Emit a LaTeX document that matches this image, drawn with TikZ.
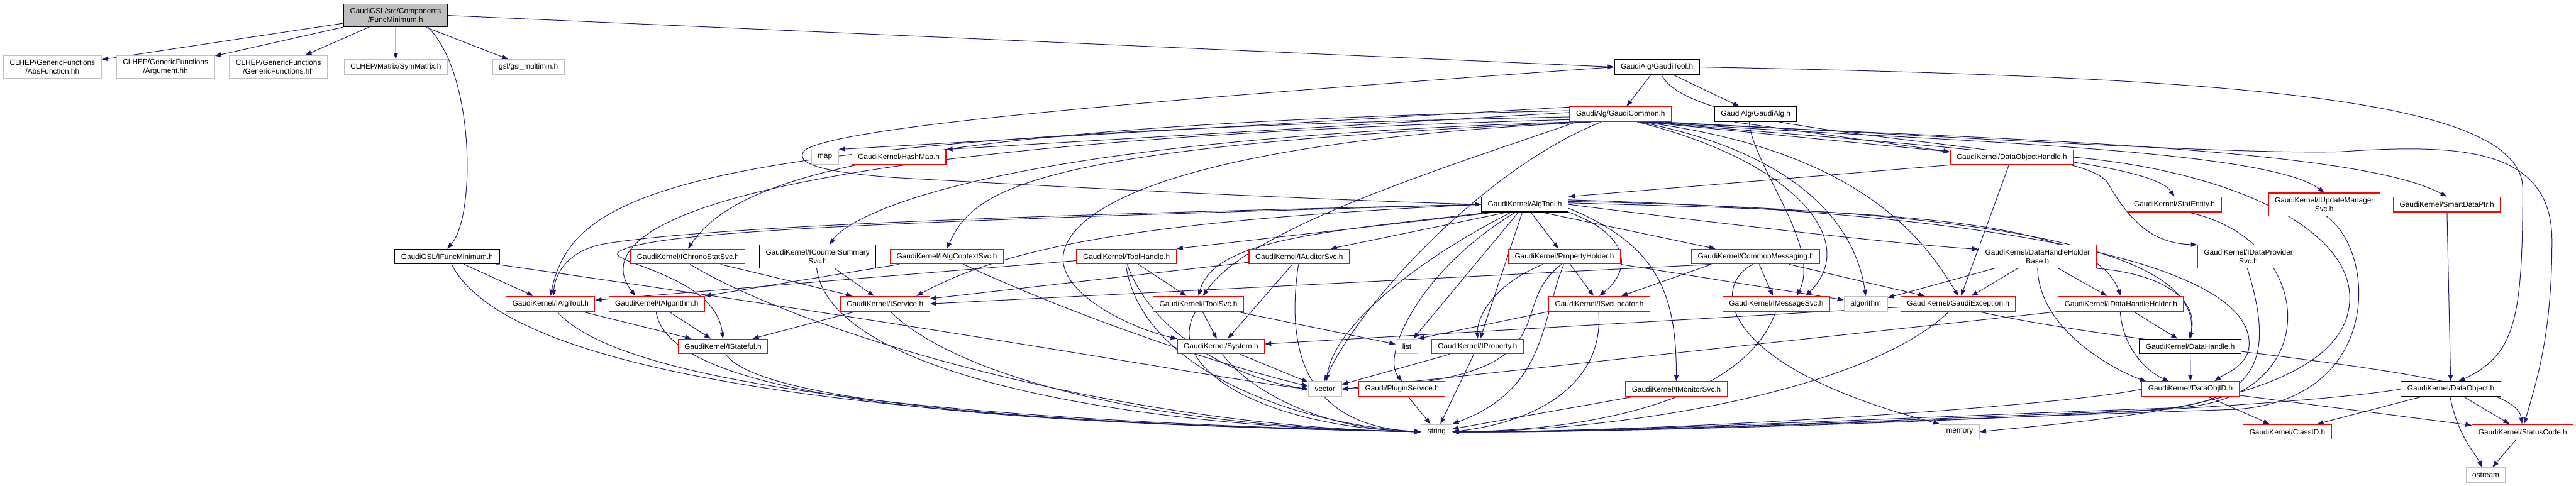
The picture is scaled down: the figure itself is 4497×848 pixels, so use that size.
\documentclass[tikz,border=0pt]{standalone}
\usepackage{fontspec}
\setmainfont{Liberation Sans}
\usetikzlibrary{arrows.meta}
\pgfdeclarelayer{background}
\pgfsetlayers{background,main}
\definecolor{edgeblue}{HTML}{191970}
\definecolor{extgray}{HTML}{BFBFBF}
\tikzset{
  hdr/.style={draw, fill=white, line width=1.3pt, inner xsep=11pt, inner ysep=4pt, minimum height=26pt, align=center, font=\fontsize{13}{15.5}\selectfont},
  redhdr/.style={hdr, draw=red},
  blkhdr/.style={hdr, draw=black},
  exthdr/.style={hdr, draw=extgray},
  roothdr/.style={hdr, draw=black, fill=extgray},
  twoline/.style={minimum height=40pt},
  dep/.style={draw=edgeblue, line width=1.1pt, -{Triangle[length=11pt,width=8pt]}}
}
\begin{document}
\begin{tikzpicture}[x=1pt,y=1pt]
\useasboundingbox (0,0) rectangle (4497,-848);
% rows from top to bottom
\node[roothdr, twoline] (root) at (690.5,-27) {GaudiGSL/src/Components\\/FuncMinimum.h};
\node[exthdr, twoline] (absf) at (91.5,-117) {CLHEP/GenericFunctions\\/AbsFunction.hh};
\node[exthdr, twoline] (argu) at (289,-117) {CLHEP/GenericFunctions\\/Argument.hh};
\node[exthdr, twoline] (genf) at (486,-117) {CLHEP/GenericFunctions\\/GenericFunctions.hh};
\node[exthdr] (symm) at (691,-117) {CLHEP/Matrix/SymMatrix.h};
\node[exthdr] (gslm) at (922.5,-117) {gsl/gsl\_multimin.h};
\node[blkhdr] (gtool) at (2892.5,-117) {GaudiAlg/GaudiTool.h};
\node[redhdr] (gcommon) at (2829,-199.5) {GaudiAlg/GaudiCommon.h};
\node[blkhdr] (galg) at (3065,-199.5) {GaudiAlg/GaudiAlg.h};
\node[exthdr] (mapn) at (1440,-274.5) {map};
\node[redhdr] (hashmap) at (1569,-274.5) {GaudiKernel/HashMap.h};
\node[redhdr] (dohandle) at (3512,-274.5) {GaudiKernel/DataObjectHandle.h};
\node[blkhdr] (algtool) at (2662,-357) {GaudiKernel/AlgTool.h};
\node[redhdr] (statent) at (3796,-357) {GaudiKernel/StatEntity.h};
\node[redhdr, twoline] (iupdsvc) at (4057.5,-357) {GaudiKernel/IUpdateManager\\Svc.h};
\node[redhdr] (smartptr) at (4271.5,-357) {GaudiKernel/SmartDataPtr.h};
\node[blkhdr] (ifunc) at (780.5,-448) {GaudiGSL/IFuncMinimum.h};
\node[redhdr] (ichrono) at (1201,-448) {GaudiKernel/IChronoStatSvc.h};
\node[blkhdr, twoline] (icounter) at (1427.5,-448) {GaudiKernel/ICounterSummary\\Svc.h};
\node[redhdr] (ialgctx) at (1653,-448) {GaudiKernel/IAlgContextSvc.h};
\node[redhdr] (toolh) at (1966.5,-448) {GaudiKernel/ToolHandle.h};
\node[redhdr] (iaudit) at (2268,-448) {GaudiKernel/IAuditorSvc.h};
\node[redhdr] (propholder) at (2731,-448) {GaudiKernel/PropertyHolder.h};
\node[redhdr] (commsg) at (3065,-448) {GaudiKernel/CommonMessaging.h};
\node[redhdr, twoline] (dhhbase) at (3557,-448) {GaudiKernel/DataHandleHolder\\Base.h};
\node[redhdr, twoline] (idataprov) at (3925,-448) {GaudiKernel/IDataProvider\\Svc.h};
\node[redhdr] (ialgtool) at (961,-530.5) {GaudiKernel/IAlgTool.h};
\node[redhdr] (ialgo) at (1146.5,-530.5) {GaudiKernel/IAlgorithm.h};
\node[redhdr] (iservice) at (1545,-530.5) {GaudiKernel/IService.h};
\node[redhdr] (itoolsvc) at (2092,-530.5) {GaudiKernel/IToolSvc.h};
\node[redhdr] (isvcloc) at (2792,-530.5) {GaudiKernel/ISvcLocator.h};
\node[redhdr] (imsgsvc) at (3101,-530.5) {GaudiKernel/IMessageSvc.h};
\node[exthdr] (algor) at (3257,-530.5) {algorithm};
\node[redhdr] (gexcept) at (3418.5,-530.5) {GaudiKernel/GaudiException.h};
\node[redhdr] (idhh) at (3702.5,-530.5) {GaudiKernel/IDataHandleHolder.h};
\node[redhdr] (istate) at (1262,-605) {GaudiKernel/IStateful.h};
\node[redhdr] (system) at (2131.5,-605) {GaudiKernel/System.h};
\node[exthdr] (listn) at (2456,-605) {list};
\node[redhdr] (iprop) at (2579.5,-605) {GaudiKernel/IProperty.h};
\node[blkhdr] (dhandle) at (3823.5,-605) {GaudiKernel/DataHandle.h};
\node[exthdr] (vectorn) at (2313,-679.5) {vector};
\node[redhdr] (plugin) at (2447.5,-679.5) {Gaudi/PluginService.h};
\node[redhdr] (imonsvc) at (2926.5,-679.5) {GaudiKernel/IMonitorSvc.h};
\node[redhdr] (dobjid) at (3824,-679.5) {GaudiKernel/DataObjID.h};
\node[blkhdr] (dobject) at (4278.5,-679.5) {GaudiKernel/DataObject.h};
\node[exthdr] (stringn) at (2508,-754) {string};
\node[exthdr] (memoryn) at (3421,-754) {memory};
\node[redhdr] (classid) at (3993,-754) {GaudiKernel/ClassID.h};
\node[redhdr] (statcode) at (4404,-754) {GaudiKernel/StatusCode.h};
\node[exthdr] (ostreamn) at (4339.5,-829.5) {ostream};

\begin{pgfonlayer}{background}
% FuncMinimum.h
\foreach \t in {absf,argu,genf,symm,gslm}
  \draw[dep] (root) -- (\t);
\draw[dep] (root.east) -- (gtool.west);
\draw[dep] (root.-20) .. controls (830,-130) and (830,-380) .. (ifunc.north);
% GaudiTool.h
\draw[dep] (gtool) -- (gcommon);
\draw[dep] (gtool) -- (galg);
\draw[dep] (gtool.west) .. controls (2000,-175) and (1470,-220) .. (1405,-262) .. controls (1385,-285) and (1430,-300) .. (1560,-310) .. controls (2000,-335) and (2400,-352) .. (algtool.west);
\draw[dep] (gtool.east) .. controls (3900,-135) and (4404,-170) .. (4404,-330) .. controls (4404,-560) and (4390,-620) .. (dobject.45);
\draw[dep] (gtool.-60) .. controls (2960,-250) and (3630,-240) .. (3680,-320) .. controls (3720,-390) and (3760,-425) .. (idataprov.north west);
% GaudiCommon.h
\draw[dep] (gcommon.172) -- (mapn.north east);
\draw[dep] (gcommon.178) -- (hashmap.north east);
\draw[dep] (gcommon.183) .. controls (1200,-235) and (1000,-330) .. (ialgtool.north);
\draw[dep] (gcommon.186) .. controls (1250,-250) and (1020,-400) .. (ialgo.160);
\draw[dep] (gcommon.176) .. controls (1500,-220) and (1280,-320) .. (ichrono.north);
\draw[dep] (gcommon.189) .. controls (1700,-245) and (1480,-380) .. (icounter.45);
\draw[dep] (gcommon.192) .. controls (1800,-255) and (1700,-330) .. (ialgctx.north);
\draw[dep] (gcommon.195) .. controls (2000,-250) and (1850,-380) .. (1856,-457) .. controls (1862,-520) and (1980,-575) .. (system.north west);
\draw[dep] (gcommon.-170) .. controls (2500,-300) and (2180,-400) .. (itoolsvc.60);
\draw[dep] (gcommon.-158) .. controls (2600,-290) and (2380,-520) .. (vectorn.95);
\draw[dep] (gcommon.-25) .. controls (3130,-280) and (3250,-420) .. (imsgsvc.15);
\draw[dep] (gcommon.-22) .. controls (3150,-270) and (3240,-400) .. (algor.north);
\draw[dep] (gcommon.-20) .. controls (3250,-262) and (3360,-420) .. (gexcept.north);
\draw[dep] (gcommon.-18) -- (dohandle.175);
\draw[dep] (gcommon.-16) .. controls (3300,-250) and (3750,-275) .. (statent.north);
\draw[dep] (gcommon.-14) .. controls (3300,-244) and (3950,-255) .. (iupdsvc.north);
\draw[dep] (gcommon.-12) .. controls (3350,-240) and (4100,-250) .. (smartptr.north);
\draw[dep] (gcommon.-10) .. controls (3350,-236) and (3900,-270) .. (4085,-265) .. controls (4300,-250) and (4455,-260) .. (4455,-420) .. controls (4455,-580) and (4430,-660) .. (statcode.80);
% GaudiAlg.h
\draw[dep] (galg.-160) -- (dohandle.175);
\draw[dep] (galg.-130) .. controls (3060,-290) and (3180,-430) .. (imsgsvc.21);
% DataObjectHandle.h
\draw[dep] (dohandle.south west) -- (algtool.north east);
\draw[dep] (dohandle) -- (gexcept);
\draw[dep] (dohandle.east) .. controls (3900,-300) and (4102,-400) .. (4102,-520) .. controls (4102,-700) and (3700,-730) .. (memoryn.east);
% AlgTool.h
\draw[dep] (algtool.west) .. controls (1800,-375) and (1250,-395) .. (1060,-425) .. controls (1000,-434) and (970,-470) .. (ialgtool.70);
\draw[dep] (algtool.west) .. controls (1500,-388) and (1130,-405) .. (1080,-440) .. controls (1055,-458) and (1250,-480) .. (istate.north);
\draw[dep] (algtool.west) .. controls (2000,-385) and (1760,-430) .. (iservice.14);
\draw[dep] (algtool.-165) -- (toolh.north east);
\draw[dep] (algtool.-156) -- (iaudit.14);
\draw[dep] (algtool.-167) .. controls (2300,-405) and (2120,-420) .. (itoolsvc.north);
\draw[dep] (algtool.-150) .. controls (2500,-440) and (2330,-560) .. (vectorn.80);
\draw[dep] (algtool.-140) .. controls (2480,-470) and (2410,-620) .. (plugin.north);
\draw[dep] (algtool) -- (listn);
\draw[dep] (algtool) -- (iprop);
\draw[dep] (algtool) -- (propholder);
\draw[dep] (algtool.-10) .. controls (2845,-410) and (2850,-470) .. (isvcloc.north);
\draw[dep] (algtool.-5) .. controls (2900,-430) and (2926,-520) .. (imonsvc.north);
\draw[dep] (algtool.-25) -- (commsg.169);
\draw[dep] (algtool.east) .. controls (3000,-390) and (3300,-425) .. (dhhbase.173);
\draw[dep] (algtool.2) .. controls (3300,-370) and (3650,-380) .. (idhh.north);
\draw[dep] (algtool.4) .. controls (3400,-365) and (3845,-420) .. (dhandle.88);
\draw[dep] (algtool.6) .. controls (3600,-375) and (3940,-480) .. (3926,-607) .. controls (3922,-640) and (3880,-655) .. (dobjid.18);
% second row
\draw[dep] (ifunc) -- (ialgtool);
\draw[dep] (ifunc.-9) .. controls (1700,-580) and (2150,-665) .. (vectorn.west);
\draw[dep] (ifunc.-60) .. controls (900,-680) and (1700,-740) .. (stringn.west);
\draw[dep] (ichrono) -- (iservice);
\draw[dep] (ichrono.-75) .. controls (1400,-580) and (1950,-745) .. (stringn.west);
\draw[dep] (icounter) -- (iservice);
\draw[dep] (icounter.-95) .. controls (1450,-660) and (2000,-748) .. (stringn.west);
\draw[dep] (ialgctx) -- (ialgo);
\draw[dep] (ialgctx) .. controls (1850,-540) and (2100,-630) .. (vectorn.170);
\draw[dep] (toolh) -- (ialgtool);
\draw[dep] (toolh) -- (itoolsvc);
\draw[dep] (toolh.-95) .. controls (1990,-640) and (2250,-740) .. (stringn.west);
\draw[dep] (toolh.-85) .. controls (2010,-580) and (2150,-660) .. (vectorn.west);
\draw[dep] (iaudit) -- (iservice);
\draw[dep] (iaudit) -- (system);
\draw[dep] (iaudit.-95) .. controls (2240,-640) and (2300,-745) .. (stringn.west);
\draw[dep] (propholder) -- (isvcloc);
\draw[dep] (propholder.south east) -- (algor.170);
\draw[dep] (propholder.-160) .. controls (2600,-500) and (2578,-560) .. (iprop.north);
\draw[dep] (propholder.-110) .. controls (2620,-540) and (2760,-660) .. (vectorn.east);
\draw[dep] (propholder.-95) .. controls (2690,-560) and (2700,-680) .. (stringn.north east);
\draw[dep] (commsg) -- (imsgsvc);
\draw[dep] (commsg) -- (gexcept);
\draw[dep] (commsg.-170) -- (iservice.east);
\draw[dep] (commsg.-170) -- (isvcloc);
\draw[dep] (commsg.-110) .. controls (2985,-500) and (3000,-640) .. (memoryn.north west);
\draw[dep] (dhhbase) -- (algor);
\draw[dep] (dhhbase) -- (gexcept);
\draw[dep] (dhhbase) -- (idhh);
\draw[dep] (dhhbase.-90) .. controls (3560,-580) and (3700,-650) .. (dobjid.170);
\draw[dep] (dhhbase.south east) .. controls (3790,-480) and (3838,-530) .. (dhandle.95);
\draw[dep] (idataprov.-95) .. controls (3970,-620) and (3950,-705) .. (3750,-716) .. controls (3300,-735) and (2800,-755) .. (stringn.east);
\draw[dep] (statent.-30) .. controls (4050,-420) and (4060,-700) .. (3800,-712) .. controls (3300,-730) and (2800,-755) .. (stringn.east);
\draw[dep] (iupdsvc.-80) .. controls (4150,-440) and (4160,-700) .. (3900,-715) .. controls (3300,-735) and (2800,-757) .. (stringn.east);
\draw[dep] (smartptr) -- (dobject);
% third row
\draw[dep] (ialgtool) -- (istate);
\draw[dep] (ialgtool.-50) .. controls (1100,-690) and (1800,-738) .. (stringn.west);
\draw[dep] (ialgo) -- (istate);
\draw[dep] (ialgo.-95) .. controls (1170,-710) and (1800,-740) .. (stringn.west);
\draw[dep] (iservice) -- (istate);
\draw[dep] (iservice.-55) .. controls (1650,-640) and (1950,-745) .. (stringn.west);
\draw[dep] (itoolsvc) -- (system);
\draw[dep] (itoolsvc) -- (listn);
\draw[dep] (itoolsvc.-110) .. controls (2030,-640) and (2200,-745) .. (stringn.west);
\draw[dep] (isvcloc.south west) -- (listn.north east);
\draw[dep] (isvcloc.-95) .. controls (2800,-660) and (2700,-735) .. (stringn.east);
\draw[dep] (imsgsvc.-95) .. controls (3050,-690) and (2800,-752) .. (stringn.east);
\draw[dep] (gexcept) -- (system);
\draw[dep] (gexcept.-140) .. controls (3250,-690) and (2800,-754) .. (stringn.east);
\draw[dep] (gexcept.-21) .. controls (3800,-620) and (4390,-640) .. (statcode.95);
\draw[dep] (idhh) -- (dhandle);
\draw[dep] (idhh.-95) .. controls (3705,-600) and (3740,-645) .. (dobjid.160);
\draw[dep] (idhh.south west) -- (vectorn.east);
% lower rows
\draw[dep] (istate.-70) .. controls (1330,-710) and (1900,-742) .. (stringn.west);
\draw[dep] (system) -- (vectorn);
\draw[dep] (system.-80) .. controls (2180,-680) and (2300,-750) .. (stringn.west);
\draw[dep] (iprop) -- (vectorn);
\draw[dep] (iprop) -- (stringn);
\draw[dep] (dhandle) -- (dobjid);
\draw[dep] (plugin) -- (stringn);
\draw[dep] (imonsvc) -- (stringn);
\draw[dep] (dobjid) -- (classid);
\draw[dep] (dobjid) -- (statcode);
\draw[dep] (dobjid.west) .. controls (3600,-710) and (2900,-755) .. (stringn.east);
\draw[dep] (dobject) -- (classid);
\draw[dep] (dobject) -- (statcode);
\draw[dep] (dobject.-95) .. controls (4290,-760) and (4320,-790) .. (ostreamn.115);
\draw[dep] (dobject.west) .. controls (3950,-720) and (2900,-757) .. (stringn.east);
\draw[dep] (statcode) -- (ostreamn);
\end{pgfonlayer}
\end{tikzpicture}
\end{document}
